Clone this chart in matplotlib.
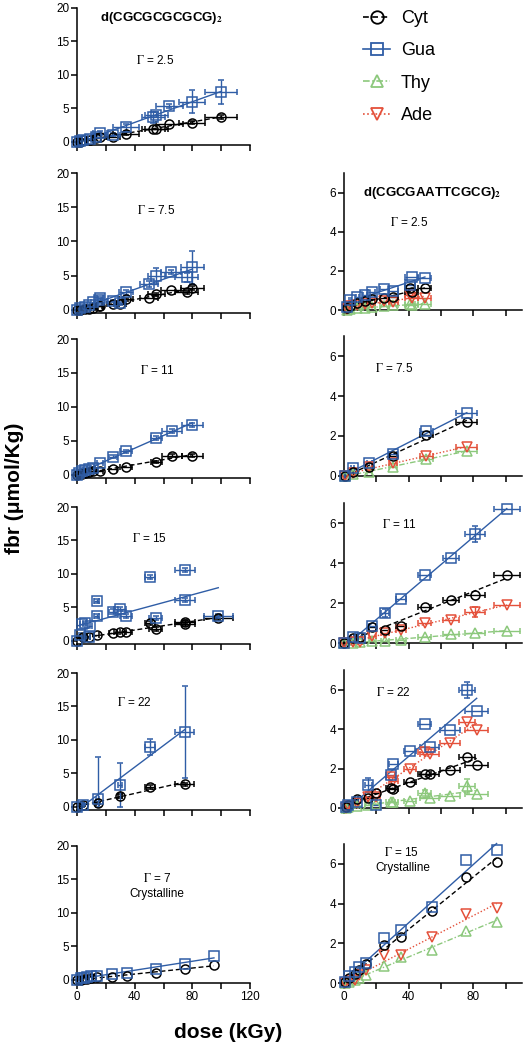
import matplotlib.pyplot as plt
import numpy as np
from matplotlib.lines import Line2D

plt.rcParams['font.family'] = ['Liberation Sans', 'DejaVu Sans']
plt.rcParams['mathtext.fontset'] = 'stix'

# ---------------- data ----------------
# left column: d(CGCGCGCGCG)2, Cyt and Gua only
l1_dose = [0, 2, 4.5, 9, 13.5, 16, 25, 34, 53, 55, 64, 80, 100]
l1_gua = [0, 0.1, 0.3, 0.5, 0.8, 1.35, 1.1, 2.2, 3.7, 4.1, 5.35, 6.0, 7.5]
l1_cyt = [0, 0.05, 0.25, 0.35, 0.6, 0.7, 0.75, 1.25, 1.9, 2.0, 2.7, 2.9, 3.75]
l1_xerr = [0, 0.5, 1, 2, 3, 5, 5, 9, 8, 8, 9.5, 9, 11]
l1_gua_err = [0, 0, 0, 0, 0, 0.3, 0.2, 0.5, 0.8, 0.4, 0.3, 1.7, 1.8]
l1_cyt_err = [0, 0, 0, 0, 0, 0, 0, 0.2, 0, 0, 0, 0.2, 0.3]

l2_dose = [0, 2, 5.5, 8, 11, 15, 16, 25, 30, 34, 50, 55, 65, 76, 80]
l2_gua = [0, 0.25, 0.45, 0.75, 1.1, 1.4, 1.7, 1.3, 0.95, 2.55, 3.8, 4.95, 5.5, 4.75, 6.2]
l2_cyt = [0, 0.05, 0.1, 0.2, 0.35, 0.5, 0.6, 0.85, 0.8, 1.55, 1.8, 2.3, 2.85, 2.55, 3.15]
l2_xerr = [0, 0.5, 1, 1, 1.5, 2, 2, 4, 4, 5, 6, 6, 7, 8, 8]
l2_gua_err = [0, 0, 0, 0, 0, 0, 0.2, 0.2, 0.2, 0.3, 0.4, 1.2, 0.3, 0.7, 2.4]
l2_cyt_err = [0, 0, 0, 0, 0, 0, 0, 0, 0, 0.2, 0, 0.2, 0, 0.2, 0.3]

l3_dose = [0, 1.6, 3.2, 5.5, 8, 11, 16, 25, 34, 55, 66, 80]
l3_gua = [0, 0.25, 0.55, 0.75, 0.9, 1.05, 1.75, 2.7, 3.45, 5.5, 6.45, 7.4]
l3_cyt = [0, 0.1, 0.15, 0.3, 0.4, 0.55, 0.65, 0.9, 1.15, 1.9, 2.85, 2.85]
l3_xerr = [0, 0.3, 0.5, 1, 1, 1.5, 2, 3, 4, 4, 7, 7.5]
l3_gua_err = [0, 0, 0, 0, 0, 0, 0, 0.2, 0.2, 0.3, 0.3, 0.3]
l3_cyt_err = [0, 0, 0, 0, 0, 0, 0, 0, 0, 0.2, 0.2, 0.2]

l4_gua_dose = [0, 2, 3.2, 5.5, 8, 9, 13.6, 13.6, 25, 30, 34, 50.5, 54.7, 75, 75, 98]
l4_gua = [0, 0.9, 2.6, 2.65, 0.65, 2.2, 5.9, 3.7, 4.4, 4.8, 3.7, 9.5, 3.4, 10.6, 6.1, 3.7]
l4_gua_xerr = [0, 0.5, 1, 1, 1, 1.5, 1.5, 1.5, 3, 4, 4, 3.5, 4.5, 7, 7, 10]
l4_gua_err = [0, 0, 0, 0, 0, 0, 0.3, 0.3, 0.3, 0.3, 0.3, 0.3, 0.3, 0.3, 0.3, 0.3]
l4_cyt_dose = [0, 4.4, 8, 13.6, 25, 30, 34, 50.5, 54.7, 75, 75, 98]
l4_cyt = [0, 0.6, 0.65, 0.85, 1.15, 1.35, 1.35, 2.65, 1.75, 2.9, 2.6, 3.4]
l4_cyt_xerr = [0, 0.5, 1, 1.5, 3, 4, 4, 3.5, 4.5, 7, 7, 10]
l4_cyt_err = [0, 0, 0, 0, 0, 0, 0, 0.3, 0.3, 0.3, 0.3, 0.3]

l5_dose = [0, 4.4, 14.3, 29.8, 50.6, 74.8]
l5_gua = [0, 0.35, 1.25, 3.25, 8.95, 11.2]
l5_cyt = [0, 0.25, 0.6, 1.65, 3.0, 3.4]
l5_xerr = [0, 0.5, 1, 1.5, 3.5, 6.5]
l5_gua_err = [0, 0.1, 6.2, 3.35, 1.2, 6.9]
l5_cyt_err = [0, 0.1, 0.2, 0.3, 0.3, 0.2]

l6_dose = [0, 2.7, 5, 7.2, 9.5, 14, 24, 34.4, 54.8, 74.7, 95]
l6_gua = [0, 0.25, 0.35, 0.45, 0.6, 0.6, 0.95, 1.05, 1.7, 2.4, 3.65]
l6_cyt = [0, 0.05, 0.1, 0.2, 0.25, 0.45, 0.45, 0.6, 1.0, 1.65, 2.3]

# right column: d(CGCGAATTCGCG)2, all four bases
r1_dose = [1.6, 3.7, 8.2, 13, 17, 25, 30.5, 40.8, 42, 50]
r1_gua = [0.17, 0.5, 0.65, 0.75, 0.9, 1.05, 0.95, 1.3, 1.7, 1.65]
r1_cyt = [0.1, 0.2, 0.35, 0.45, 0.55, 0.6, 0.65, 1.1, 0.9, 1.1]
r1_ade = [0.05, 0.2, 0.25, 0.3, 0.35, 0.45, 0.4, 0.75, 0.6, 0.6]
r1_thy = [0.0, 0.05, 0.1, 0.1, 0.15, 0.2, 0.25, 0.3, 0.25, 0.3]
r1_xerr = [0.3, 0.5, 1, 1.5, 2, 3, 3, 3, 4, 4]

r2_dose = [0.5, 5.4, 15.7, 30.5, 50.7, 75.9]
r2_gua = [0.0, 0.4, 0.65, 1.1, 2.25, 3.15]
r2_cyt = [0.0, 0.2, 0.45, 1.0, 2.05, 2.7]
r2_ade = [0.0, 0.15, 0.45, 0.65, 1.0, 1.45]
r2_thy = [0.0, 0.08, 0.2, 0.45, 0.85, 1.25]
r2_xerr = [0.3, 1, 1.5, 2.5, 4, 6.5]

r3_dose = [0, 5.4, 9.9, 17.5, 25.4, 35.3, 50, 66, 81, 100.6]
r3_gua = [0, 0.3, 0.25, 0.85, 1.5, 2.2, 3.4, 4.25, 5.45, 6.7]
r3_cyt = [0, 0.25, 0.3, 0.8, 0.65, 0.85, 1.8, 2.15, 2.4, 3.4]
r3_ade = [0, 0.05, 0.05, 0.35, 0.5, 0.65, 1.0, 1.15, 1.55, 1.9]
r3_thy = [0, 0.0, 0.03, 0.1, 0.12, 0.15, 0.3, 0.45, 0.5, 0.6]
r3_xerr = [0, 1, 1, 2, 2.5, 3, 4, 5, 6, 8]
r3_gua_err = [0, 0, 0, 0, 0.2, 0, 0, 0, 0.4, 0]
r3_ade_err = [0, 0, 0, 0, 0, 0, 0, 0, 0.25, 0]

r4_dose = [1, 2.7, 7.8, 15, 20, 28.8, 30.5, 40.8, 50, 53, 65.5, 75.9, 82]
r4_gua = [0.05, 0.13, 0.3, 1.15, 0.15, 1.65, 2.25, 2.9, 4.25, 3.1, 3.95, 6.0, 4.9]
r4_cyt = [0.05, 0.15, 0.45, 0.5, 0.75, 1.0, 0.95, 1.3, 1.75, 1.75, 1.95, 2.6, 2.2]
r4_ade = [0.02, 0.1, 0.25, 0.55, 0.55, 1.55, 1.35, 2.0, 2.85, 2.75, 3.3, 4.35, 3.95]
r4_thy = [0.0, 0.05, 0.1, 0.13, 0.2, 0.3, 0.3, 0.35, 0.75, 0.5, 0.6, 1.1, 0.7]
r4_xerr = [0.3, 0.5, 1, 2, 2.5, 3, 3, 4, 4, 6, 6, 5, 7]
r4_gua_err = [0, 0, 0, 0.35, 0, 0, 0, 0, 0, 0, 0, 0.4, 0]
r4_thy_err = [0, 0, 0, 0, 0, 0, 0, 0, 0.15, 0, 0, 0.35, 0]

r5_dose = [0.6, 3, 6.7, 9.5, 13.8, 25, 35, 54.4, 75.7, 94.3]
r5_gua = [0.03, 0.34, 0.54, 0.79, 1.0, 2.27, 2.66, 3.83, 6.18, 6.69]
r5_cyt = [0.03, 0.25, 0.47, 0.67, 0.97, 1.93, 2.3, 3.61, 5.33, 6.08]
r5_ade = [0, 0.08, 0.17, 0.42, 0.64, 1.43, 1.39, 2.3, 3.45, 3.78]
r5_thy = [0, 0.03, 0.13, 0.25, 0.39, 0.87, 1.3, 1.68, 2.64, 3.08]

# ---------------- styles ----------------
colors = {'Cyt': 'black', 'Gua': '#2f5da6', 'Thy': '#8cc87c', 'Ade': '#e4503a'}
markers = {'Cyt': 'o', 'Gua': 's', 'Thy': '^', 'Ade': 'v'}
lstyles = {'Cyt': (0, (3.5, 2)), 'Gua': '-', 'Thy': (0, (4, 1.5, 1, 1.5)), 'Ade': (0, (1, 1.5))}

W, H = 531, 1050
fig = plt.figure(figsize=(W / 100, H / 100), dpi=100)


def make_ax(x0, x1, top, bottom, xmax, ylim, yticks, xlabels):
    ax = fig.add_axes([x0 / W, 1 - bottom / H, (x1 - x0) / W, (bottom - top) / H])
    ax.set_xlim(0, xmax)
    ax.set_ylim(*ylim)
    for s in ['top', 'right']:
        ax.spines[s].set_visible(False)
    for s in ['left', 'bottom']:
        ax.spines[s].set_linewidth(1.1)
    ax.set_yticks(yticks)
    ax.set_xticks(np.arange(0, xmax + 1, 20))
    if xlabels:
        ax.set_xticklabels([str(v) if v % 40 == 0 else '' for v in range(0, int(xmax) + 1, 20)])
    else:
        ax.set_xticklabels([])
    ax.tick_params(direction='out', length=4, width=1.1, labelsize=8.5, pad=1.5)
    return ax


def series(ax, name, dose, vals, xerr=None, yerr=None, fit=True):
    c = colors[name]
    dose = np.array(dose, float)
    vals = np.array(vals, float)
    if fit:
        k, b = np.polyfit(dose, vals, 1)
        xs = np.array([dose.min(), dose.max()])
        ax.plot(xs, k * xs + b, color=c, ls=lstyles[name], lw=1.0, zorder=2, clip_on=False)
    xe = None if xerr is None else np.where(np.array(xerr) > 0, xerr, np.nan)
    ye = None
    if yerr is not None:
        up = np.where(np.array(yerr) > 0, yerr, np.nan)
        # bars stop at the x axis, as in the original
        ye = [np.minimum(up, vals), up]
    ax.errorbar(dose, vals, xerr=xe, yerr=ye, fmt=markers[name], color=c, mfc='none',
                mec=c, ms=6.5, mew=1.1, elinewidth=1.0, capsize=2.5, capthick=1.0,
                zorder=3, clip_on=False)


L0, L1 = 77, 250
R0, R1 = 344, 522
left_rows = [(8, 145), (173, 313), (339, 478), (507, 644), (673, 810), (846, 983)]
right_rows = [(173, 310), (336, 476), (503, 643), (670, 808), (844, 983)]
left_ylim = (-0.45, 20)
left_yt = [0, 5, 10, 15, 20]

# left column
ax = make_ax(L0, L1, *left_rows[0], 120, left_ylim, left_yt, False)
series(ax, 'Cyt', l1_dose, l1_cyt, l1_xerr, l1_cyt_err)
series(ax, 'Gua', l1_dose, l1_gua, l1_xerr, l1_gua_err)

ax = make_ax(L0, L1, *left_rows[1], 120, left_ylim, left_yt, False)
series(ax, 'Cyt', l2_dose, l2_cyt, l2_xerr, l2_cyt_err)
series(ax, 'Gua', l2_dose, l2_gua, l2_xerr, l2_gua_err)

ax = make_ax(L0, L1, *left_rows[2], 120, left_ylim, left_yt, False)
series(ax, 'Cyt', l3_dose, l3_cyt, l3_xerr, l3_cyt_err)
series(ax, 'Gua', l3_dose, l3_gua, l3_xerr, l3_gua_err)

ax = make_ax(L0, L1, *left_rows[3], 120, left_ylim, left_yt, False)
series(ax, 'Cyt', l4_cyt_dose, l4_cyt, l4_cyt_xerr, l4_cyt_err)
series(ax, 'Gua', l4_gua_dose, l4_gua, l4_gua_xerr, l4_gua_err)

ax = make_ax(L0, L1, *left_rows[4], 120, left_ylim, left_yt, False)
series(ax, 'Cyt', l5_dose, l5_cyt, l5_xerr, l5_cyt_err)
series(ax, 'Gua', l5_dose, l5_gua, l5_xerr, l5_gua_err)

ax = make_ax(L0, L1, *left_rows[5], 120, left_ylim, left_yt, True)
series(ax, 'Cyt', l6_dose, l6_cyt)
series(ax, 'Gua', l6_dose, l6_gua)

# right column
right_ylim = (0, 7)
right_yt = [0, 2, 4, 6]

ax = make_ax(R0, R1, *right_rows[0], 110, right_ylim, right_yt, False)
series(ax, 'Thy', r1_dose, r1_thy, r1_xerr)
series(ax, 'Ade', r1_dose, r1_ade, r1_xerr)
series(ax, 'Cyt', r1_dose, r1_cyt, r1_xerr)
series(ax, 'Gua', r1_dose, r1_gua, r1_xerr)

ax = make_ax(R0, R1, *right_rows[1], 110, right_ylim, right_yt, False)
series(ax, 'Thy', r2_dose, r2_thy, r2_xerr)
series(ax, 'Ade', r2_dose, r2_ade, r2_xerr)
series(ax, 'Cyt', r2_dose, r2_cyt, r2_xerr)
series(ax, 'Gua', r2_dose, r2_gua, r2_xerr)

ax = make_ax(R0, R1, *right_rows[2], 110, right_ylim, right_yt, False)
series(ax, 'Thy', r3_dose, r3_thy, r3_xerr)
series(ax, 'Ade', r3_dose, r3_ade, r3_xerr, r3_ade_err)
series(ax, 'Cyt', r3_dose, r3_cyt, r3_xerr)
series(ax, 'Gua', r3_dose, r3_gua, r3_xerr, r3_gua_err)

ax = make_ax(R0, R1, *right_rows[3], 110, right_ylim, right_yt, False)
series(ax, 'Thy', r4_dose, r4_thy, r4_xerr, r4_thy_err)
series(ax, 'Ade', r4_dose, r4_ade, r4_xerr)
series(ax, 'Cyt', r4_dose, r4_cyt, r4_xerr)
series(ax, 'Gua', r4_dose, r4_gua, r4_xerr, r4_gua_err)

ax = make_ax(R0, R1, *right_rows[4], 110, right_ylim, right_yt, True)
series(ax, 'Thy', r5_dose, r5_thy)
series(ax, 'Ade', r5_dose, r5_ade)
series(ax, 'Cyt', r5_dose, r5_cyt)
series(ax, 'Gua', r5_dose, r5_gua)

# ---------------- texts ----------------
def ftext(x, y, s, **kw):
    fig.text(x / W, 1 - y / H, s, ha='center', va='center', **kw)


ftext(161, 18, r'd(CGCGCGCGCG)$_\mathbf{2}$', fontsize=9.5, fontweight='bold')
ftext(432, 193, r'd(CGCGAATTCGCG)$_\mathbf{2}$', fontsize=9.5, fontweight='bold')

gam = [(155, 61, '2.5'), (156, 210, '7.5'), (157, 371, '11'), (149, 538, '15'),
       (134, 703, '22'), (157, 878, '7'),
       (409, 222, '2.5'), (394, 368, '7.5'), (399, 525, '11'), (393, 693, '22'),
       (401, 852, '15')]
for x, y, g in gam:
    ftext(x, y, r'$\Gamma$ = ' + g, fontsize=8.5)
ftext(157, 894, 'Crystalline', fontsize=8.5)
ftext(403, 868, 'Crystalline', fontsize=8.5)

ftext(15, 488, 'fbr (μmol/Kg)', fontsize=15, fontweight='bold', rotation=90)
ftext(228, 1033, 'dose (kGy)', fontsize=15, fontweight='bold')

# legend
handles = [Line2D([0], [0], color=colors[n], ls=lstyles[n], lw=1.2, marker=markers[n],
                  mfc='none', mec=colors[n], ms=9, mew=1.3) for n in ['Cyt', 'Gua', 'Thy', 'Ade']]
fig.legend(handles, ['Cyt', 'Gua', 'Thy', 'Ade'], loc='upper left',
           bbox_to_anchor=(363 / W, 1 - 10 / H), frameon=False, fontsize=13,
           handlelength=1.5, handletextpad=0.6, labelspacing=0.85,
           borderpad=0, borderaxespad=0)

fig.savefig('out.png', dpi=100)
